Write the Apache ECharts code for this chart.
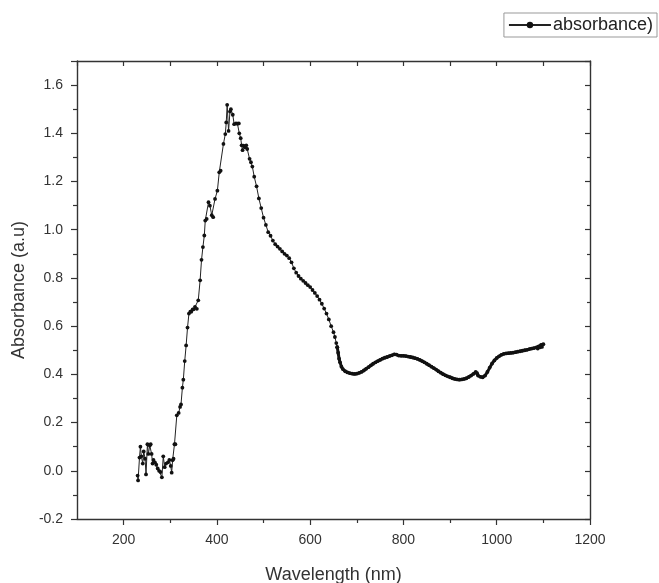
<!DOCTYPE html>
<html>
<head>
<meta charset="utf-8">
<script src="https://cdn.jsdelivr.net/npm/echarts@6/dist/echarts.min.js"></script>
<style>
html,body{margin:0;padding:0;background:#fff;}
#chart{width:659px;height:583px;}
</style>
</head>
<body>
<div id="chart"></div>
<script>
// Wavelength (nm) and absorbance (a.u)
const wavelength = [
 230,231,234,236,238,241,243,246,248,251,253,256,258,260,262,264,267,270,273,276,279,282,285,288,291,295,298,301,303,305,307,309,311,
 314,318,321,323,326,328,331,334,337,340,343,345,348,350,353,357,360,364,367,370,373,375,378,382,385,389,392,396,401,405,408,
 414,418,420,422,425,428,430,434,437,441,444,447,448,451,453,455,457,460,463,465,470,473,476,
 480,485,490,495,500,505,510,515,520,525,530,535,540,545,550,555,560,565,570,575,580,585,590,595,600,605,610,615,620,625,630,635,640,645,650,653,656,658,660,662,664,667,
 670,675,680,685,690,695,700,705,710,715,720,725,730,735,740,745,750,755,760,765,770,775,780,785,790,795,800,805,810,815,820,825,830,835,840,845,850,855,860,865,870,875,880,885,890,895,
 900,905,910,915,920,925,930,935,940,945,950,955,958,960,965,970,975,980,985,990,995,1000,1005,1010,1015,1020,1025,1030,1035,1040,1045,1050,1055,1060,1065,1070,1075,1080,1085,1088,1090,1093,1095,1097,1100
];
const absorbance = [
 -0.02,-0.04,0.055,0.10,0.06,0.03,0.08,0.05,-0.015,0.11,0.07,0.105,0.11,0.07,0.03,0.045,0.035,0.025,0.01,0.0,-0.005,-0.027,0.06,0.015,0.03,0.035,0.045,0.02,-0.008,0.044,0.05,0.11,0.11,
 0.23,0.24,0.265,0.275,0.345,0.378,0.455,0.52,0.594,0.652,0.66,0.66,0.67,0.67,0.68,0.672,0.707,0.79,0.875,0.928,0.976,1.038,1.045,1.114,1.10,1.06,1.052,1.128,1.162,1.238,1.245,
 1.356,1.397,1.445,1.518,1.41,1.49,1.50,1.477,1.438,1.441,1.44,1.441,1.40,1.38,1.35,1.33,1.349,1.342,1.35,1.335,1.294,1.28,1.262,
 1.22,1.18,1.13,1.09,1.05,1.02,0.99,0.975,0.955,0.94,0.93,0.921,0.91,0.90,0.893,0.882,0.865,0.84,0.822,0.808,0.797,0.788,0.779,0.77,0.762,0.75,0.738,0.725,0.71,0.693,0.673,0.652,0.628,0.60,0.575,0.555,0.53,0.513,0.49,0.465,0.45,0.432,
 0.422,0.413,0.408,0.405,0.403,0.402,0.403,0.406,0.41,0.416,0.423,0.43,0.437,0.444,0.45,0.455,0.46,0.465,0.469,0.472,0.476,0.479,0.483,0.482,0.478,0.477,0.477,0.476,0.474,0.472,0.47,0.467,0.464,0.46,0.455,0.45,0.444,0.438,0.432,0.426,0.42,0.413,0.407,0.401,0.396,0.392,
 0.388,0.384,0.381,0.379,0.378,0.379,0.381,0.384,0.389,0.395,0.402,0.41,0.405,0.395,0.39,0.388,0.395,0.41,0.428,0.445,0.458,0.468,0.475,0.481,0.485,0.487,0.488,0.489,0.49,0.492,0.494,0.496,0.498,0.50,0.502,0.505,0.507,0.509,0.512,0.507,0.516,0.512,0.522,0.514,0.525
];
const xMajorTicks = [200,400,600,800,1000,1200];
const xMinorTicks = [300,500,700,900,1100];
const seriesName = 'absorbance)';
const denseFrom = 658; // the scan is drawn as a dense (bold) trace from here on

const points = wavelength.map((w,i)=>[w, absorbance[i]]);
const sparsePts = points.filter(p=>p[0] <= denseFrom);
const densePts = points.filter(p=>p[0] >= denseFrom);
const axisColor = '#333';
const font = 'Liberation Sans, Arial, sans-serif';
const chart = echarts.init(document.getElementById('chart'));
chart.setOption({
  animation:false,
  backgroundColor:'#fff',
  textStyle:{fontFamily:font},
  legend:{
    data:[seriesName],
    right:2, top:13,
    itemWidth:42, itemHeight:8, itemGap:2,
    borderColor:'#999', borderWidth:1, borderRadius:0,
    padding:[3,4,3,4],
    textStyle:{fontSize:18, color:'#222', fontFamily:font, padding:[0,0,0,-3]}
  },
  grid:{left:77, right:69, top:61, bottom:64, containLabel:false, outerBoundsMode:'none'},
  xAxis:[
    {type:'value', position:'bottom', min:100, max:1200, interval:100,
     name:'Wavelength (nm)', nameLocation:'middle', nameGap:47,
     nameTextStyle:{fontSize:18, color:'#333', fontFamily:font},
     axisLine:{show:true, onZero:false, lineStyle:{color:axisColor, width:1.4}},
     axisTick:{show:true, inside:false, length:6, customValues:xMajorTicks, lineStyle:{color:axisColor, width:1.2}},
     axisLabel:{show:true, margin:14, fontSize:14, color:'#333', customValues:xMajorTicks, formatter:(v)=>String(v)},
     splitLine:{show:false}},
    {type:'value', position:'bottom', min:100, max:1200, interval:100,
     axisLine:{show:false, onZero:false},
     axisTick:{show:true, inside:false, length:4, customValues:xMinorTicks, lineStyle:{color:axisColor, width:1.2}},
     axisLabel:{show:false}, splitLine:{show:false}},
    {type:'value', position:'top', min:100, max:1200, interval:100,
     axisLine:{show:true, onZero:false, lineStyle:{color:axisColor, width:1.4}},
     axisTick:{show:true, inside:true, length:5, lineStyle:{color:axisColor, width:1.2}},
     axisLabel:{show:false}, splitLine:{show:false}}
  ],
  yAxis:[
    {type:'value', position:'left', min:-0.2, max:1.7, interval:0.2,
     name:'Absorbance (a.u)', nameLocation:'middle', nameGap:46, nameRotate:90,
     nameTextStyle:{fontSize:18, color:'#333', fontFamily:font},
     axisLine:{show:true, onZero:false, lineStyle:{color:axisColor, width:1.4}},
     axisTick:{show:true, inside:false, length:6, lineStyle:{color:axisColor, width:1.2}},
     minorTick:{show:true, splitNumber:2, length:4, lineStyle:{color:axisColor, width:1.2}},
     axisLabel:{show:true, margin:14, fontSize:14, color:'#333', showMaxLabel:false,
       formatter:(v)=> (Math.abs(v-1.7)<1e-6 ? '' : v.toFixed(1))},
     splitLine:{show:false}, minorSplitLine:{show:false}},
    {type:'value', position:'right', min:-0.2, max:1.7, interval:0.2,
     axisLine:{show:true, onZero:false, lineStyle:{color:axisColor, width:1.4}},
     axisTick:{show:true, inside:true, length:5, lineStyle:{color:axisColor, width:1.2}},
     minorTick:{show:true, splitNumber:2, length:3, lineStyle:{color:axisColor, width:1.2}},
     axisLabel:{show:false}, splitLine:{show:false}}
  ],
  series:[{
    name:seriesName, type:'line', xAxisIndex:0, yAxisIndex:0,
    data:sparsePts,
    showSymbol:true, showAllSymbol:true, symbol:'circle', symbolSize:3.8,
    itemStyle:{color:'#111'},
    lineStyle:{color:'#222', width:1},
    emphasis:{disabled:true}
  },{
    name:seriesName, type:'line', xAxisIndex:0, yAxisIndex:0,
    data:densePts,
    showSymbol:true, showAllSymbol:true, symbol:'circle', symbolSize:3.8,
    itemStyle:{color:'#111'},
    lineStyle:{color:'#111', width:3},
    emphasis:{disabled:true}
  }]
});
</script>
</body>
</html>
